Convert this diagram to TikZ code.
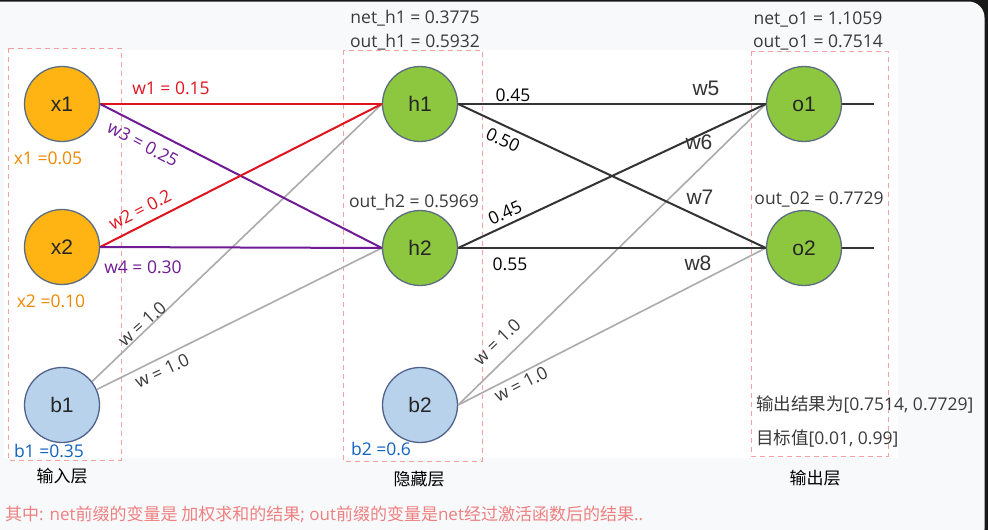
\documentclass[tikz,border=0pt]{standalone}
\usepackage{fontspec}
\setmainfont{Open Sans}
\newfontfamily\cjk{Noto Sans CJK SC}
\newfontfamily\nodefont{Liberation Sans}
\definecolor{cardbg}{HTML}{F8F9FB}
\definecolor{redw}{HTML}{E0141E}
\definecolor{purw}{HTML}{6E1B94}
\definecolor{orgt}{HTML}{F08800}
\definecolor{blut}{HTML}{1262C0}
\definecolor{grayl}{HTML}{ABABAB}
\definecolor{darkl}{HTML}{333333}
\definecolor{dashc}{HTML}{F5A0A0}
\definecolor{foot}{HTML}{EE8080}
\definecolor{orgfill}{HTML}{FFB414}
\definecolor{grnfill}{HTML}{8DC63F}
\definecolor{blufill}{HTML}{B7D2EA}
\definecolor{ringc}{HTML}{5A6C82}
\definecolor{txtg}{HTML}{3A3A3A}
\tikzset{
  neuron/.style={circle,minimum size=75pt,inner sep=0pt,line width=1.3pt,draw=ringc,
    font=\nodefont\fontsize{21}{24}\selectfont,text=black!85},
  innode/.style={neuron,fill=orgfill},
  hidnode/.style={neuron,fill=grnfill},
  biasnode/.style={neuron,fill=blufill,draw=ringc!90!blue},
  lbl/.style={inner sep=0pt,font=\fontsize{17.5}{20}\selectfont},
  wlbl/.style={inner sep=0pt,font=\nodefont\fontsize{21}{24}\selectfont,text=darkl},
  cjklbl/.style={inner sep=0pt,font=\cjk\fontsize{17}{20}\selectfont},
  layerbox/.style={draw=dashc,dashed,line width=1pt,dash pattern=on 5pt off 4pt},
  redcon/.style={draw=redw,line width=2pt},
  purcon/.style={draw=purw,line width=2pt},
  graycon/.style={draw=grayl,line width=1.6pt},
  darkcon/.style={draw=darkl,line width=2pt},
}
\begin{document}
\begin{tikzpicture}[x=1pt,y=-1pt]
\useasboundingbox (0,0) rectangle (988,530);
\fill[black!90] (0,0) rectangle (988,530);
\fill[cardbg,rounded corners=16pt] (-20,1.5) rectangle (984.5,545);
\fill[white] (4,50) rectangle (898,458);
% layer boxes
\draw[layerbox] (8,48) rectangle (121,460);
\draw[layerbox] (343,50) rectangle (482,461);
\draw[layerbox] (751,51) rectangle (888,456);
% nodes
\node[innode] (x1) at (62,104) {x1};
\node[innode] (x2) at (62,247) {x2};
\node[biasnode] (b1) at (62,405) {b1};
\node[hidnode] (h1) at (420,104) {h1};
\node[hidnode] (h2) at (420,248) {h2};
\node[biasnode] (b2) at (420,405) {b2};
\node[hidnode] (o1) at (804,104) {o1};
\node[hidnode] (o2) at (804,248) {o2};
\coordinate (o1end) at (874,104);
\coordinate (o2end) at (874,248);
% connectors input -> hidden
\draw[graycon] (b1.38) -- (h1.west);
\draw[graycon] (b1.24) -- (h2.west);
\draw[redcon] (x1.east) -- (h1.west);
\draw[purcon] (x1.east) -- (h2.west);
\draw[redcon] (x2.east) -- (h1.west);
\draw[purcon] (x2.east) -- (h2.west);
% hidden -> output
\draw[graycon] (b2.east) -- (o1.west);
\draw[graycon] (b2.east) -- (o2.west);
\draw[darkcon] (h1.east) -- (o1.west);
\draw[darkcon] (h1.east) -- (o2.west);
\draw[darkcon] (h2.east) -- (o1.west);
\draw[darkcon] (h2.east) -- (o2.west);
\draw[darkcon] (o1.east) -- (o1end);
\draw[darkcon] (o2.east) -- (o2end);
% labels input side
\node[lbl,text=redw] (lw1) at (171,88) {w1 = 0.15};
\node[lbl,text=purw,rotate=-28] (lw3) at (143,144) {w3 = 0.25};
\node[lbl,text=redw,rotate=27] (lw2) at (140,210) {w2 = 0.2};
\node[lbl,text=purw] (lw4) at (143,267) {w4 = 0.30};
\node[lbl,text=orgt] (vx1) at (48,158) {x1 =0.05};
\node[lbl,text=orgt] (vx2) at (51,301) {x2 =0.10};
\node[lbl,text=blut] (vb1) at (49,451) {b1 =0.35};
\node[lbl,text=txtg,rotate=42] (lwb1a) at (142,324) {w = 1.0};
\node[lbl,text=txtg,rotate=25] (lwb1b) at (162,371) {w = 1.0};
\node[cjklbl] (inlayer) at (62,476) {输入层};
% hidden side
\node[lbl,text=txtg] (neth1) at (415,18) {net\_h1 = 0.3775};
\node[lbl,text=txtg] (outh1) at (415,42) {out\_h1 = 0.5932};
\node[lbl,text=txtg] (outh2) at (414,202) {out\_h2 = 0.5969};
\node[lbl,text=black] (l45a) at (513,95) {0.45};
\node[lbl,text=black,rotate=-25] (l50) at (503,140) {0.50};
\node[lbl,text=black,rotate=25] (l45b) at (505,213) {0.45};
\node[lbl,text=black] (l55) at (510,264) {0.55};
\node[lbl,text=blut] (vb2) at (381,449) {b2 =0.6};
\node[lbl,text=txtg,rotate=44] (lwb2a) at (497,342) {w = 1.0};
\node[lbl,text=txtg,rotate=27] (lwb2b) at (521,384) {w = 1.0};
\node[cjklbl] (hidlayer) at (419,479) {隐藏层};
\node[wlbl] (lw5) at (706,88) {w5};
\node[wlbl] (lw6) at (699,142) {w6};
\node[wlbl] (lw7) at (700,197) {w7};
\node[wlbl] (lw8) at (698,263) {w8};
% output side
\node[lbl,text=txtg] (neto1) at (818,20) {net\_o1 = 1.1059};
\node[lbl,text=txtg] (outo1) at (818,43) {out\_o1 = 0.7514};
\node[lbl,text=txtg] (outo2) at (819,199) {out\_02 = 0.7729};
\node[lbl,text=txtg,anchor=west] (res) at (756,405) {{\cjk 输出结果为}[0.7514, 0.7729]};
\node[lbl,text=txtg,anchor=west] (tgt) at (756,439) {{\cjk 目标值}[0.01, 0.99]};
\node[cjklbl] (outlayer) at (815,478) {输出层};
% footer
\node[inner sep=0pt,font=\fontsize{17}{20}\selectfont,text=foot,anchor=west] (footer) at (5,514) {{\cjk 其中}: net{\cjk 前缀的变量是 加权求和的结果}; out{\cjk 前缀的变量是}net{\cjk 经过激活函数后的结果}..};
\end{tikzpicture}
\end{document}
